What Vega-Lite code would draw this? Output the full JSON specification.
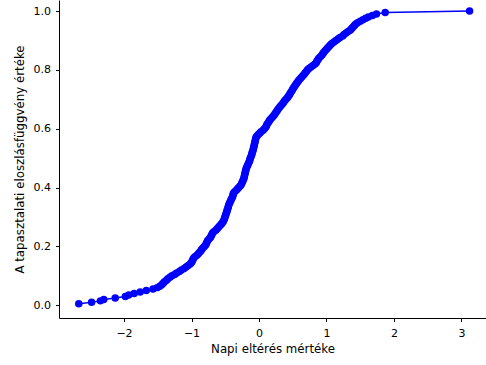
{
  "$schema": "https://vega.github.io/schema/vega-lite/v6.json",
  "width": 427,
  "height": 318,
  "autosize": {"type": "none"},
  "padding": {"left": 59, "top": 0, "right": 0, "bottom": 47},
  "background": "white",
  "config": {
    "view": {"stroke": null},
    "font": "DejaVu Sans",
    "axis": {
      "grid": false,
      "domainColor": "black",
      "domainWidth": 1,
      "tickColor": "black",
      "tickSize": 3.5,
      "labelFont": "DejaVu Sans",
      "labelFontSize": 11,
      "labelColor": "black",
      "titleFont": "DejaVu Sans",
      "titleFontSize": 11.8,
      "titleFontWeight": "normal",
      "titleColor": "black"
    }
  },
  "data": {
    "values": [
      {"x": -2.67, "y": 0.005}, {"x": -2.48, "y": 0.010}, {"x": -2.35, "y": 0.015}, {"x": -2.30, "y": 0.020},
      {"x": -2.13, "y": 0.025}, {"x": -1.98, "y": 0.030}, {"x": -1.93, "y": 0.035}, {"x": -1.85, "y": 0.040},
      {"x": -1.76, "y": 0.045}, {"x": -1.67, "y": 0.050}, {"x": -1.57, "y": 0.055}, {"x": -1.51, "y": 0.060},
      {"x": -1.47, "y": 0.065}, {"x": -1.44, "y": 0.070}, {"x": -1.42, "y": 0.075}, {"x": -1.40, "y": 0.080},
      {"x": -1.37, "y": 0.085}, {"x": -1.35, "y": 0.090}, {"x": -1.32, "y": 0.095}, {"x": -1.29, "y": 0.100},
      {"x": -1.25, "y": 0.105}, {"x": -1.22, "y": 0.110}, {"x": -1.18, "y": 0.115}, {"x": -1.15, "y": 0.120},
      {"x": -1.11, "y": 0.125}, {"x": -1.08, "y": 0.130}, {"x": -1.05, "y": 0.135}, {"x": -1.02, "y": 0.140},
      {"x": -1.00, "y": 0.145}, {"x": -0.99, "y": 0.150}, {"x": -0.98, "y": 0.155}, {"x": -0.97, "y": 0.160},
      {"x": -0.95, "y": 0.165}, {"x": -0.92, "y": 0.170}, {"x": -0.90, "y": 0.175}, {"x": -0.88, "y": 0.180},
      {"x": -0.86, "y": 0.185}, {"x": -0.85, "y": 0.190}, {"x": -0.83, "y": 0.195}, {"x": -0.81, "y": 0.200},
      {"x": -0.79, "y": 0.205}, {"x": -0.78, "y": 0.210}, {"x": -0.77, "y": 0.215}, {"x": -0.76, "y": 0.220},
      {"x": -0.74, "y": 0.225}, {"x": -0.72, "y": 0.230}, {"x": -0.71, "y": 0.235}, {"x": -0.70, "y": 0.240},
      {"x": -0.69, "y": 0.245}, {"x": -0.67, "y": 0.250}, {"x": -0.64, "y": 0.255}, {"x": -0.62, "y": 0.260},
      {"x": -0.60, "y": 0.265}, {"x": -0.58, "y": 0.270}, {"x": -0.56, "y": 0.275}, {"x": -0.545, "y": 0.280},
      {"x": -0.53, "y": 0.285}, {"x": -0.52, "y": 0.290}, {"x": -0.51, "y": 0.295}, {"x": -0.505, "y": 0.300},
      {"x": -0.495, "y": 0.305}, {"x": -0.49, "y": 0.310}, {"x": -0.48, "y": 0.315}, {"x": -0.475, "y": 0.320},
      {"x": -0.47, "y": 0.325}, {"x": -0.46, "y": 0.330}, {"x": -0.455, "y": 0.335}, {"x": -0.45, "y": 0.340},
      {"x": -0.44, "y": 0.345}, {"x": -0.43, "y": 0.350}, {"x": -0.42, "y": 0.355}, {"x": -0.41, "y": 0.360},
      {"x": -0.40, "y": 0.365}, {"x": -0.39, "y": 0.370}, {"x": -0.385, "y": 0.375}, {"x": -0.38, "y": 0.380},
      {"x": -0.365, "y": 0.385}, {"x": -0.34, "y": 0.390}, {"x": -0.32, "y": 0.395}, {"x": -0.30, "y": 0.400},
      {"x": -0.28, "y": 0.405}, {"x": -0.265, "y": 0.410}, {"x": -0.255, "y": 0.415}, {"x": -0.245, "y": 0.420},
      {"x": -0.235, "y": 0.425}, {"x": -0.225, "y": 0.430}, {"x": -0.22, "y": 0.435}, {"x": -0.215, "y": 0.440},
      {"x": -0.21, "y": 0.445}, {"x": -0.205, "y": 0.450}, {"x": -0.20, "y": 0.455}, {"x": -0.195, "y": 0.460},
      {"x": -0.19, "y": 0.465}, {"x": -0.18, "y": 0.470}, {"x": -0.17, "y": 0.475}, {"x": -0.16, "y": 0.480},
      {"x": -0.15, "y": 0.485}, {"x": -0.14, "y": 0.490}, {"x": -0.135, "y": 0.495}, {"x": -0.13, "y": 0.500},
      {"x": -0.12, "y": 0.505}, {"x": -0.11, "y": 0.510}, {"x": -0.105, "y": 0.515}, {"x": -0.10, "y": 0.520},
      {"x": -0.09, "y": 0.525}, {"x": -0.085, "y": 0.530}, {"x": -0.08, "y": 0.535}, {"x": -0.075, "y": 0.540},
      {"x": -0.07, "y": 0.545}, {"x": -0.065, "y": 0.550}, {"x": -0.06, "y": 0.555}, {"x": -0.055, "y": 0.560},
      {"x": -0.05, "y": 0.565}, {"x": -0.045, "y": 0.570}, {"x": -0.03, "y": 0.575}, {"x": -0.01, "y": 0.580},
      {"x": 0.01, "y": 0.585}, {"x": 0.03, "y": 0.590}, {"x": 0.06, "y": 0.595}, {"x": 0.08, "y": 0.600},
      {"x": 0.10, "y": 0.605}, {"x": 0.11, "y": 0.610}, {"x": 0.12, "y": 0.615}, {"x": 0.135, "y": 0.620},
      {"x": 0.15, "y": 0.625}, {"x": 0.16, "y": 0.630}, {"x": 0.18, "y": 0.635}, {"x": 0.20, "y": 0.640},
      {"x": 0.22, "y": 0.645}, {"x": 0.235, "y": 0.650}, {"x": 0.25, "y": 0.655}, {"x": 0.265, "y": 0.660},
      {"x": 0.28, "y": 0.665}, {"x": 0.295, "y": 0.670}, {"x": 0.31, "y": 0.675}, {"x": 0.33, "y": 0.680},
      {"x": 0.35, "y": 0.685}, {"x": 0.365, "y": 0.690}, {"x": 0.38, "y": 0.695}, {"x": 0.40, "y": 0.700},
      {"x": 0.42, "y": 0.705}, {"x": 0.435, "y": 0.710}, {"x": 0.45, "y": 0.715}, {"x": 0.46, "y": 0.720},
      {"x": 0.475, "y": 0.725}, {"x": 0.49, "y": 0.730}, {"x": 0.50, "y": 0.735}, {"x": 0.515, "y": 0.740},
      {"x": 0.53, "y": 0.745}, {"x": 0.545, "y": 0.750}, {"x": 0.56, "y": 0.755}, {"x": 0.575, "y": 0.760},
      {"x": 0.59, "y": 0.765}, {"x": 0.61, "y": 0.770}, {"x": 0.63, "y": 0.775}, {"x": 0.65, "y": 0.780},
      {"x": 0.67, "y": 0.785}, {"x": 0.685, "y": 0.790}, {"x": 0.705, "y": 0.795}, {"x": 0.72, "y": 0.800},
      {"x": 0.74, "y": 0.805}, {"x": 0.77, "y": 0.810}, {"x": 0.80, "y": 0.815}, {"x": 0.83, "y": 0.820},
      {"x": 0.85, "y": 0.825}, {"x": 0.86, "y": 0.830}, {"x": 0.875, "y": 0.835}, {"x": 0.89, "y": 0.840},
      {"x": 0.91, "y": 0.845}, {"x": 0.93, "y": 0.850}, {"x": 0.945, "y": 0.855}, {"x": 0.96, "y": 0.860},
      {"x": 0.98, "y": 0.865}, {"x": 1.00, "y": 0.870}, {"x": 1.02, "y": 0.875}, {"x": 1.04, "y": 0.880},
      {"x": 1.06, "y": 0.885}, {"x": 1.08, "y": 0.890}, {"x": 1.11, "y": 0.895}, {"x": 1.14, "y": 0.900},
      {"x": 1.17, "y": 0.905}, {"x": 1.20, "y": 0.910}, {"x": 1.24, "y": 0.915}, {"x": 1.26, "y": 0.920},
      {"x": 1.29, "y": 0.925}, {"x": 1.32, "y": 0.930}, {"x": 1.35, "y": 0.935}, {"x": 1.37, "y": 0.940},
      {"x": 1.39, "y": 0.945}, {"x": 1.41, "y": 0.950}, {"x": 1.43, "y": 0.955}, {"x": 1.46, "y": 0.960},
      {"x": 1.50, "y": 0.965}, {"x": 1.54, "y": 0.970}, {"x": 1.58, "y": 0.975}, {"x": 1.62, "y": 0.980},
      {"x": 1.68, "y": 0.985}, {"x": 1.74, "y": 0.990}, {"x": 1.87, "y": 0.995}, {"x": 3.12, "y": 1.000}
    ]
  },
  "encoding": {
    "x": {
      "field": "x",
      "type": "quantitative",
      "scale": {"domain": [-2.963, 3.363], "nice": false, "zero": false},
      "axis": {"values": [-2, -1, 0, 1, 2, 3], "format": "d", "title": "Napi eltérés mértéke", "labelPadding": 6, "titlePadding": 5, "labelExpr": "replace(datum.label, '-', '−')"}
    },
    "y": {
      "field": "y",
      "type": "quantitative",
      "scale": {"domain": [-0.0432, 1.0374], "nice": false, "zero": false},
      "axis": {"values": [0, 0.2, 0.4, 0.6, 0.8, 1.0], "format": ".1f", "title": "A tapasztalati eloszlásfüggvény értéke", "labelPadding": 5, "titlePadding": 8}
    },
    "order": {"field": "x", "type": "quantitative"}
  },
  "layer": [
    {"mark": {"type": "line", "color": "blue", "strokeWidth": 1.5, "clip": false}},
    {"mark": {"type": "point", "filled": true, "color": "blue", "opacity": 1, "size": 56, "shape": "circle", "clip": false}}
  ]
}
